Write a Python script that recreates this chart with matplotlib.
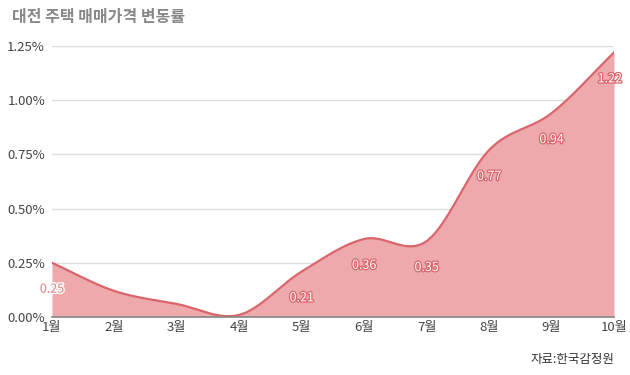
import numpy as np
import matplotlib
matplotlib.use('Agg')
import matplotlib.pyplot as plt
import matplotlib.patheffects as pe
from matplotlib.ticker import FuncFormatter

plt.rcParams['font.family'] = ['Noto Sans CJK KR', 'DejaVu Sans']

# data
months = ['1월', '2월', '3월', '4월', '5월', '6월', '7월', '8월', '9월', '10월']
rates = [0.25, 0.12, 0.06, 0.01, 0.21, 0.36, 0.35, 0.77, 0.94, 1.22]
# which points carry a value label
labelled = [True, False, False, False, True, True, True, True, True, True]
yticks = [0.0, 0.25, 0.5, 0.75, 1.0, 1.25]

LINE = '#d9656a'
FILL = '#eda9ab'


def catmull_rom(x, y, n=40):
    """Smooth curve through the points for drawing."""
    x = np.asarray(x, float)
    y = np.asarray(y, float)
    px = np.concatenate([[2 * x[0] - x[1]], x, [2 * x[-1] - x[-2]]])
    py = np.concatenate([[2 * y[0] - y[1]], y, [2 * y[-1] - y[-2]]])
    xs, ys = [], []
    t = np.linspace(0, 1, n, endpoint=False)
    for i in range(1, len(px) - 2):
        m1x = (px[i + 1] - px[i - 1]) / 2
        m2x = (px[i + 2] - px[i]) / 2
        m1y = (py[i + 1] - py[i - 1]) / 2
        m2y = (py[i + 2] - py[i]) / 2
        h00 = 2 * t**3 - 3 * t**2 + 1
        h10 = t**3 - 2 * t**2 + t
        h01 = -2 * t**3 + 3 * t**2
        h11 = t**3 - t**2
        xs.append(h00 * px[i] + h10 * m1x + h01 * px[i + 1] + h11 * m2x)
        ys.append(h00 * py[i] + h10 * m1y + h01 * py[i + 1] + h11 * m2y)
    xs.append([x[-1]])
    ys.append([y[-1]])
    return np.concatenate(xs), np.concatenate(ys)


fig = plt.figure(figsize=(6.3, 3.75), dpi=100)
ax = fig.add_axes([52 / 630, 58 / 375, 562 / 630, 271 / 375])

x = np.arange(len(months))
sx, sy = catmull_rom(x, rates)
ax.fill_between(sx, 0, sy, color=FILL, lw=0, zorder=2)
ax.plot(sx, sy, color=LINE, lw=1.6, zorder=3)

for xi, v, show in zip(x, rates, labelled):
    if not show:
        continue
    if xi == 0:
        txt = ax.annotate('%.2f' % v, (xi, v), xytext=(0, -19), textcoords='offset points',
                          ha='center', va='center', fontsize=9, color='#e07f84', zorder=5)
        txt.set_path_effects([pe.withStroke(linewidth=2, foreground='white')])
    else:
        dx = -3 if xi == len(months) - 1 else 0
        txt = ax.annotate('%.2f' % v, (xi, v), xytext=(dx, -19), textcoords='offset points',
                          ha='center', va='center', fontsize=9, color='white', zorder=5)
        txt.set_path_effects([pe.withStroke(linewidth=1.8, foreground='#d9656a')])

ax.set_xlim(0, len(months) - 1)
ax.set_ylim(0, 1.25)
ax.set_yticks(yticks)
ax.yaxis.set_major_formatter(FuncFormatter(lambda v, p: '%.2f%%' % v))
ax.set_xticks(x)
ax.set_xticklabels(months)
ax.tick_params(length=0, labelsize=9.5, colors='#444444')
ax.tick_params(axis='x', pad=3)
ax.tick_params(axis='y', pad=5)
ax.grid(axis='y', color='#dddddd', lw=1, zorder=1)
for s in ['top', 'right', 'left']:
    ax.spines[s].set_visible(False)
ax.spines['bottom'].set_color('#888888')
ax.spines['bottom'].set_linewidth(1.2)
ax.spines['bottom'].set_zorder(4)

fig.text(12 / 630, 1 - 17 / 375, '대전 주택 매매가격 변동률', fontsize=11.5, fontweight='bold',
         color='#888888', ha='left', va='center')
fig.text(614 / 630, 1 - 359 / 375, '자료:한국감정원', fontsize=9, color='#333333',
         ha='right', va='center')

fig.savefig('out.png', dpi=100)
